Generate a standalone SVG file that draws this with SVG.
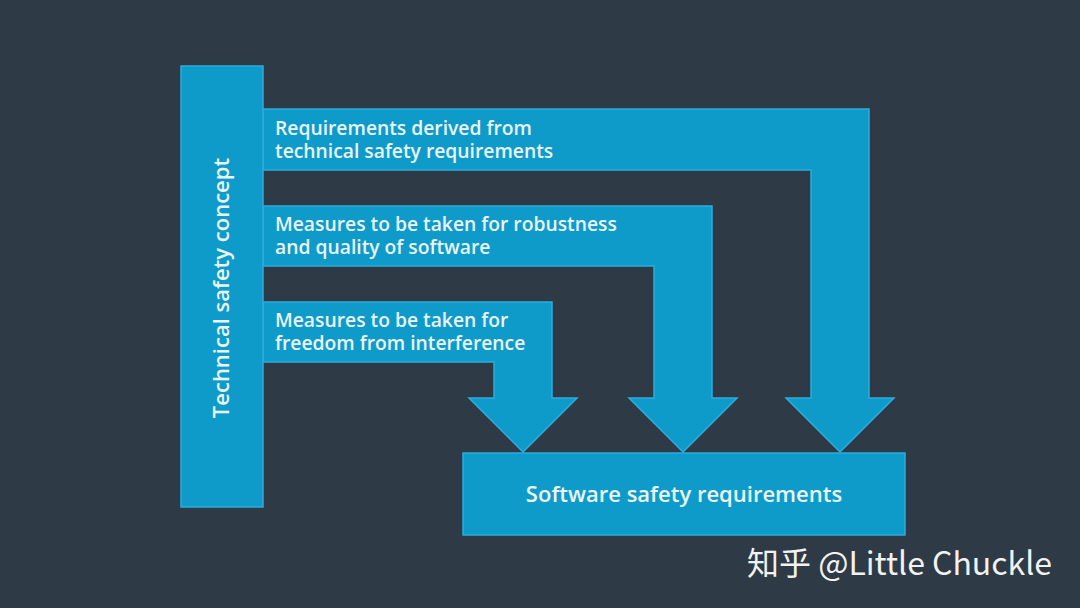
<svg xmlns="http://www.w3.org/2000/svg" width="1080" height="608" viewBox="0 0 1080 608">
<style>
.shape{fill:#0f9bc9;stroke:#2badde;stroke-width:1.5}
.lbl{font-family:"Open Sans","Liberation Sans",sans-serif;font-size:19.3px;font-weight:600;fill:#eaf5f9}
.big{font-family:"Open Sans","Liberation Sans",sans-serif;font-size:22px;font-weight:600;fill:#eaf5f9}
</style>
<rect width="1080" height="608" fill="#2e3a46"/>
<g id="connectors">
<path id="arrow1" class="shape" d="M263,109 H869 V398 H894 L840,452 L786,398 H811 V170 H263 Z"/>
<path id="arrow2" class="shape" d="M263,206 H712 V398 H737 L683,452 L629,398 H654 V266 H263 Z"/>
<path id="arrow3" class="shape" d="M263,302 H552 V398 H577 L523,452 L469,398 H494 V362 H263 Z"/>
</g>
<g id="node-tsc">
<rect class="shape" x="181" y="66" width="82" height="441"/>
<text class="big" transform="translate(229,288) rotate(-90)" text-anchor="middle">Technical safety concept</text>
</g>
<g id="label1">
<text class="lbl" x="275" y="135">Requirements derived from<tspan x="275" y="158">technical safety requirements</tspan></text>
</g>
<g id="label2">
<text class="lbl" x="275" y="231">Measures to be taken for robustness<tspan x="275" y="254">and quality of software</tspan></text>
</g>
<g id="label3">
<text class="lbl" x="275" y="327">Measures to be taken for<tspan x="275" y="350">freedom from interference</tspan></text>
</g>
<g id="node-ssr">
<rect class="shape" x="463" y="453" width="442" height="82"/>
<text class="big" x="684" y="502" text-anchor="middle">Software safety requirements</text>
</g>
<text x="747" y="575" font-family="'Noto Sans CJK SC','Open Sans',sans-serif" font-size="32" fill="#f2f2f2">知乎 @Little Chuckle</text>
</svg>
